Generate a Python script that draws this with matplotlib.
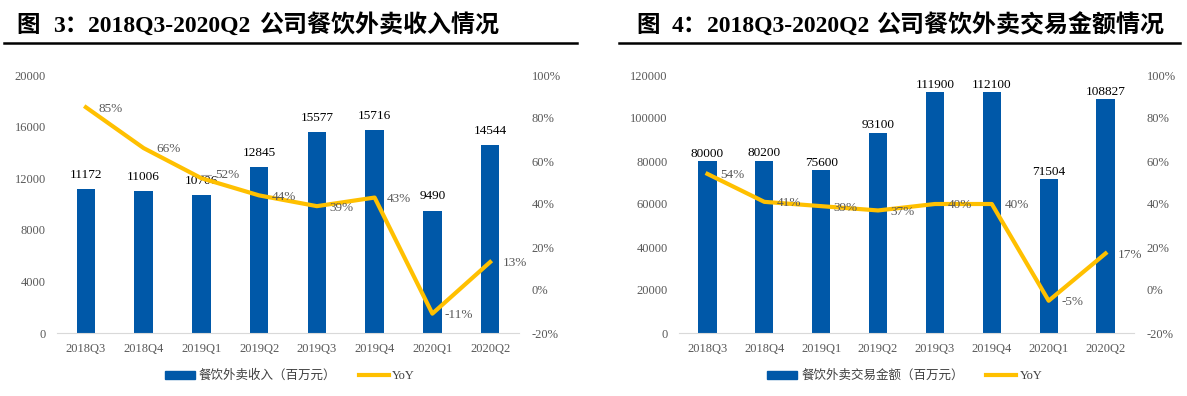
import matplotlib
matplotlib.use('Agg')
import matplotlib.pyplot as plt
from matplotlib.lines import Line2D
from matplotlib.patches import Patch

# 数据
quarters = ['2018Q3', '2018Q4', '2019Q1', '2019Q2', '2019Q3', '2019Q4', '2020Q1', '2020Q2']
revenue = [11172, 11006, 10706, 12845, 15577, 15716, 9490, 14544]
revenue_yoy = [85, 66, 52, 44, 39, 43, -11, 13]
gmv = [80000, 80200, 75600, 93100, 111900, 112100, 71504, 108827]
gmv_yoy = [54, 41, 39, 37, 40, 40, -5, 17]

BLUE = '#0058A8'
GOLD = '#FFC000'
GREY = '#595959'
SERIF = ['Liberation Serif', 'Noto Sans CJK SC']

W, H = 1187, 396
fig = plt.figure(figsize=(W / 100, H / 100), dpi=100)


def px_rect(x0, x1, y0, y1):
    # 像素坐标(左上原点) -> figure 坐标
    return [x0 / W, 1 - y1 / H, (x1 - x0) / W, (y1 - y0) / H]


def draw_panel(rect, values, yoy, ymax, ystep, label_pad, leader_idx=None):
    ax = fig.add_axes(rect)
    xs = list(range(len(quarters)))
    ax.bar(xs, values, width=0.32, color=BLUE, zorder=2)
    for x, v in zip(xs, values):
        ax.annotate(str(v), (x, v), xytext=(0, label_pad), textcoords='offset points',
                    ha='center', va='bottom', fontsize=9.5, color='black', family=SERIF)
    ax.set_xlim(-0.5, len(quarters) - 0.5)
    ax.set_ylim(0, ymax)
    ax.set_yticks(range(0, ymax + 1, ystep))
    ax.set_xticks(xs)
    ax.set_xticklabels(quarters)
    ax.tick_params(axis='both', length=0, labelsize=9, labelcolor=GREY)
    ax.tick_params(axis='y', pad=8)
    ax.tick_params(axis='x', pad=7)
    for lbl in ax.get_xticklabels() + ax.get_yticklabels():
        lbl.set_family(SERIF)
    for s in ['top', 'left', 'right']:
        ax.spines[s].set_visible(False)
    ax.spines['bottom'].set_color('#D9D9D9')

    ax2 = ax.twinx()
    ax2.plot(xs, yoy, color=GOLD, lw=3, solid_joinstyle='round', zorder=3)
    for x, v in zip(xs, yoy):
        if x == leader_idx:
            # 带引导线的标签
            ax2.annotate(f'{v}%', (x, v), xytext=(10, 2), textcoords='offset points',
                         ha='left', va='center', fontsize=9.5, color=GREY, family=SERIF,
                         arrowprops=dict(arrowstyle='-', color='#A6A6A6', lw=0.8,
                                         shrinkA=1, shrinkB=2,
                                         connectionstyle='angle,angleA=0,angleB=90,rad=0'))
        else:
            ax2.annotate(f'{v}%', (x, v), xytext=(9, -1), textcoords='offset points',
                         ha='left', va='center', fontsize=9.5, color=GREY, family=SERIF)
    ax2.set_ylim(-20, 100)
    ax2.set_yticks(range(-20, 101, 20))
    ax2.set_yticklabels([f'{t}%' for t in range(-20, 101, 20)])
    ax2.tick_params(axis='y', length=0, labelsize=9, labelcolor=GREY, pad=9)
    for lbl in ax2.get_yticklabels():
        lbl.set_family(SERIF)
    for s in ax2.spines.values():
        s.set_visible(False)
    return ax, ax2


def draw_header(num, cn_text, xs, rule_x0, rule_x1):
    # xs: "图", 编号, 英文日期, 中文标题 的起始像素位置
    y = 1 - 26 / H
    kw = dict(fontweight='bold', family=SERIF, ha='left', va='center')
    fig.text(xs[0] / W, y, '图', fontsize=17, **kw)
    fig.text(xs[1] / W, y, f'{num}：', fontsize=17, **kw)
    fig.text(xs[2] / W, y, '2018Q3-2020Q2', fontsize=17, **kw)
    fig.text(xs[3] / W, y, cn_text, fontsize=17.3, **kw)
    fig.add_artist(Line2D([rule_x0 / W, rule_x1 / W], [1 - 43 / H] * 2,
                          color='black', lw=1.8))


def draw_legend(bar_name, cx):
    handles = [Patch(color=BLUE), Line2D([], [], color=GOLD, lw=3)]
    fig.legend(handles, [bar_name, 'YoY'], loc='center',
               bbox_to_anchor=(cx / W, 1 - 376 / H), ncol=2, frameon=False,
               handlelength=2.4, handleheight=0.6, handletextpad=0.3,
               columnspacing=1.8, labelcolor='#404040',
               prop={'family': SERIF, 'size': 9})


# 左图：餐饮外卖收入
draw_header('3', '公司餐饮外卖收入情况', [16, 53, 88, 259], 4, 577)
draw_panel(px_rect(57, 519, 75, 333), revenue, revenue_yoy, 20000, 4000, 6, leader_idx=2)
draw_legend('餐饮外卖收入（百万元）', 290)

# 右图：餐饮外卖交易金额
draw_header('4', '公司餐饮外卖交易金额情况', [636, 672, 707, 876], 619, 1180)
draw_panel(px_rect(679, 1134, 75, 333), gmv, gmv_yoy, 120000, 20000, 1)
draw_legend('餐饮外卖交易金额（百万元）', 905)

fig.savefig('out.png', dpi=100)
